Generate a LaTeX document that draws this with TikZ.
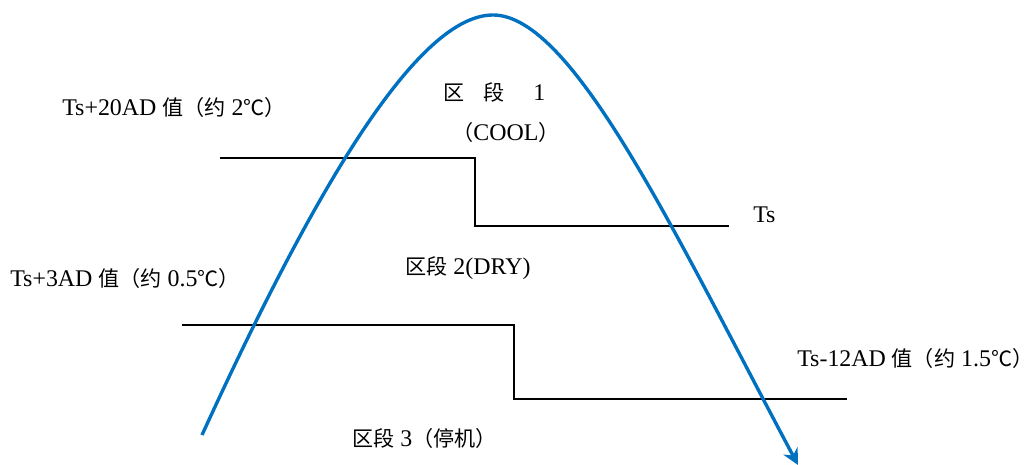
\documentclass[tikz,border=0pt]{standalone}
\usepackage{fontspec}
\setmainfont{Liberation Serif}
\newfontfamily\cjk{Noto Sans CJK SC}
\newcommand\zh[1]{{\cjk\fontsize{15}{17}\selectfont #1}}
\usetikzlibrary{arrows.meta}
\definecolor{curveblue}{RGB}{0,112,192}

\begin{document}
\begin{tikzpicture}[x=0.025cm,y=-0.025cm,>={Stealth[length=4mm,width=4mm]},line join=miter,
  limit/.style={line width=1.4pt,black},
  lbl/.style={anchor=west,inner sep=0pt,font=\fontsize{17}{19}\selectfont}]
\useasboundingbox (0,0) rectangle (1032,465);
\coordinate (a1) at (220,158);
\coordinate (a2) at (475,158);
\coordinate (a3) at (475,226);
\coordinate (a4) at (729,226);
\coordinate (b1) at (182,325);
\coordinate (b2) at (514,325);
\coordinate (b3) at (514,399);
\coordinate (b4) at (847,399);
\coordinate (start) at (202,435);
\coordinate (peak) at (493,15);
\coordinate (stop) at (798,465);
\draw[limit] (a1) -- (a2) -- (a3) -- (a4);
\draw[limit] (b1) -- (b2) -- (b3) -- (b4);
\draw[->,line width=2.4pt,curveblue] (start) .. controls (320,177) and (420,15) .. (peak)
  .. controls (573,15) and (675,234) .. (stop);
\node[lbl] (up) at (62,107) {Ts+20AD \zh{值（约} 2\zh{℃）}};
\node[lbl] (ts) at (753,215) {Ts};
\node[lbl] (low) at (10,278) {Ts+3AD \zh{值（约} 0.5\zh{℃）}};
\node[lbl] (dn) at (797,358) {Ts-12AD \zh{值（约} 1.5\zh{℃）}};
\node[lbl] (z1) at (443,92) {\zh{区}\hspace{0.8em}\zh{段}\hspace{1.2em}1};
\node[lbl] (z1b) at (452,132) {\zh{（}COOL\zh{）}};
\node[lbl] (z2) at (405,268) {\zh{区段} 2(DRY)};
\node[lbl] (z3) at (352,438) {\zh{区段} 3\zh{（停机）}};
\end{tikzpicture}
\end{document}
